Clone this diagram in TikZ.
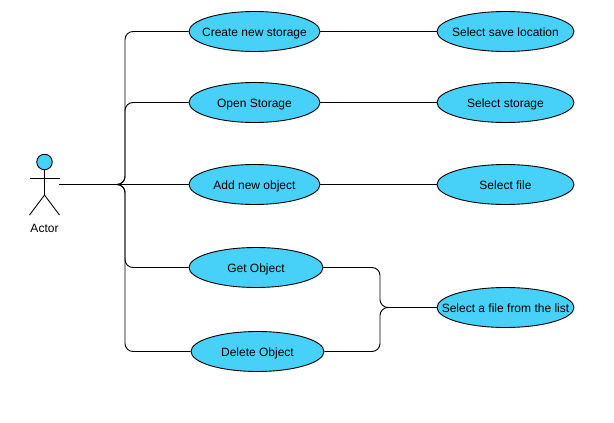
\documentclass[tikz,border=0pt]{standalone}
\usepackage{fontspec}
\setmainfont{Liberation Sans}
\usetikzlibrary{shapes.geometric}
\definecolor{fillblue}{HTML}{48D1F8}
\newcommand{\caselabel}[1]{\makebox[0pt][c]{\raisebox{-4.8pt}[0pt][0pt]{#1}}}
\tikzset{
  usecase/.style={draw=black,fill=fillblue,ellipse,line width=0.9pt,inner sep=0pt,minimum width=#1,minimum height=40pt,font=\fontsize{12}{14}\selectfont,text=black},
  usecase/.default=131pt,
  link/.style={draw=black,line width=0.9pt,rounded corners=8pt},
  figure/.style={draw=black,line width=0.9pt}
}
\begin{document}
\begin{tikzpicture}[x=1pt,y=-1pt]
\useasboundingbox (0,0) rectangle (614,423);
\node[usecase=131pt] (create) at (254.5,31.5) {\caselabel{Create new storage}};
\node[usecase=131pt] (open) at (254.5,102.5) {\caselabel{Open Storage}};
\node[usecase=131pt] (add) at (254.5,184.5) {\caselabel{Add new object}};
\node[usecase=134pt] (get) at (256,267.5) {\caselabel{Get Object}};
\node[usecase=133pt] (delete) at (257.5,351.5) {\caselabel{Delete Object}};
\node[usecase=137pt] (save) at (505.5,31.5) {\caselabel{Select save location}};
\node[usecase=137pt] (storage) at (505.5,102.5) {\caselabel{Select storage}};
\node[usecase=137pt] (file) at (505.5,184.5) {\caselabel{Select file}};
\node[usecase=137pt] (list) at (505.5,307.5) {\caselabel{Select a file from the list}};
% actor
\node[circle,draw=black,fill=fillblue,line width=0.9pt,minimum size=15.5pt,inner sep=0pt] (head) at (44.5,162) {};
\coordinate (hip) at (44.5,195);
\coordinate (armL) at (29.5,178);
\coordinate (armR) at (59.5,178);
\coordinate (legL) at (29.5,215);
\coordinate (legR) at (59.5,215);
\draw[figure] (head.south) -- (hip);
\draw[figure] (armL) -- (armR);
\draw[figure] (legL) -- (hip) -- (legR);
\node[font=\fontsize{12}{14}\selectfont,inner sep=0pt] (actorlabel) at (44.5,228) {Actor};
\coordinate (actorport) at (59,184.5);
\coordinate (busA) at (125,0);
\coordinate (busB) at (380,0);
\coordinate (joinB) at (380,307.5);
% connectors
\draw[link] (actorport) -- (actorport -| busA) -- (busA |- create.west) -- (create.west);
\draw[link] (actorport) -- (actorport -| busA) -- (busA |- open.west) -- (open.west);
\draw[link] (actorport) -- (add.west);
\draw[link] (actorport) -- (actorport -| busA) -- (busA |- get.west) -- (get.west);
\draw[link] (actorport) -- (actorport -| busA) -- (busA |- delete.west) -- (delete.west);
\draw[link] (create.east) -- (save.west);
\draw[link] (open.east) -- (storage.west);
\draw[link] (add.east) -- (file.west);
\draw[link] (get.east) -- (get.east -| busB) -- (joinB) -- (list.west);
\draw[link] (delete.east) -- (delete.east -| busB) -- (joinB) -- (list.west);
\end{tikzpicture}
\end{document}
